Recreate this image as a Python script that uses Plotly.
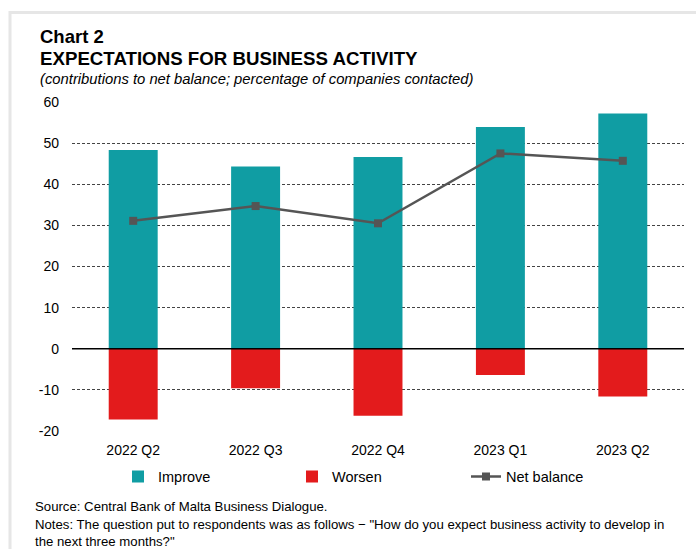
import plotly.graph_objects as go

categories = ["2022 Q2", "2022 Q3", "2022 Q4", "2023 Q1", "2023 Q2"]
improve = [48.3, 44.3, 46.6, 53.9, 57.2]
worsen = [-17.2, -9.6, -16.3, -6.4, -11.6]
net_balance = [31.1, 34.7, 30.5, 47.5, 45.7]
y_ticks = [-20, -10, 0, 10, 20, 30, 40, 50, 60]
y_tick_labels = ["-20", "-10", "0", "10", "20", "30", "40", "50", "60"]

FONT = "Liberation Sans, Arial, sans-serif"
TEAL = "#109DA3"
RED = "#E31B1C"
GREY = "#555555"

fig = go.Figure()
fig.add_trace(go.Bar(x=categories, y=improve, name="Improve", marker_color=TEAL,
                     marker_line_width=0))
fig.add_trace(go.Bar(x=categories, y=worsen, name="Worsen", marker_color=RED,
                     marker_line_width=0))
fig.add_trace(go.Scatter(x=categories, y=net_balance, name="Net balance", mode="lines+markers",
                         line=dict(color=GREY, width=2.5),
                         marker=dict(symbol="square", size=8, color=GREY)))

W, H = 696, 549
L, R, T, B = 72, 12, 102, 118
pw, ph = W - L - R, H - T - B

def px(x):
    return (x - L) / pw

def py(y):
    return (H - B - y) / ph

shapes = [
    dict(type="line", xref="paper", yref="paper", x0=px(9), x1=px(W + 5), y0=py(12.5), y1=py(12.5),
         line=dict(color="#e6e6e6", width=3)),
    dict(type="line", xref="paper", yref="paper", x0=px(10), x1=px(10), y0=py(11), y1=py(H + 5),
         line=dict(color="#e6e6e6", width=3)),
    dict(type="line", xref="paper", yref="y", x0=0, x1=1, y0=0, y1=0,
         line=dict(color="black", width=1.5), layer="above"),
]

annotations = [
    dict(text="<b>Chart 2</b>", x=px(38), y=py(36), xref="paper", yref="paper", xanchor="left",
         yanchor="middle", showarrow=False, font=dict(size=18.5, color="black", family=FONT)),
    dict(text="<b>EXPECTATIONS FOR BUSINESS ACTIVITY</b>", x=px(38), y=py(59), xref="paper",
         yref="paper", xanchor="left", yanchor="middle", showarrow=False,
         font=dict(size=18.7, color="black", family=FONT)),
    dict(text="<i>(contributions to net balance; percentage of companies contacted)</i>", x=px(38),
         y=py(79.5), xref="paper", yref="paper", xanchor="left", yanchor="middle", showarrow=False,
         font=dict(size=14.8, color="black", family=FONT)),
    dict(text="Source: Central Bank of Malta Business Dialogue.", x=px(33), y=py(506), xref="paper",
         yref="paper", xanchor="left", yanchor="middle", showarrow=False,
         font=dict(size=13.2, color="black", family=FONT)),
    dict(text="Notes: The question put to respondents was as follows \u2212 \"How do you expect business activity to develop in<br>the next three months?\"",
         x=px(33), y=py(515), xref="paper", yref="paper", xanchor="left", yanchor="top",
         showarrow=False, align="left",
         font=dict(size=13.2, color="black", family=FONT)),
]

fig.update_layout(
    width=W, height=H,
    margin=dict(l=L, r=R, t=T, b=B, autoexpand=False),
    paper_bgcolor="white", plot_bgcolor="white",
    barmode="relative", bargap=0.6,
    font=dict(family=FONT, size=14, color="black"),
    showlegend=True,
    legend=dict(orientation="h", x=px(118), xanchor="left", y=py(476.5), yanchor="middle",
                entrywidth=129, font=dict(size=14.5, family=FONT), traceorder="normal",
                itemwidth=30),
    shapes=shapes,
    annotations=annotations,
    xaxis=dict(showgrid=False, showline=False, ticks="", tickfont=dict(size=14), fixedrange=True,
               ticklabelstandoff=9),
    yaxis=dict(range=[-20, 60], tickvals=y_ticks, ticktext=y_tick_labels, showgrid=True,
               gridcolor="#444444", griddash="3px,2px", gridwidth=1, zeroline=False,
               showline=False, ticklabelstandoff=12, tickfont=dict(size=14)),
)

fig.write_html("out.html")
